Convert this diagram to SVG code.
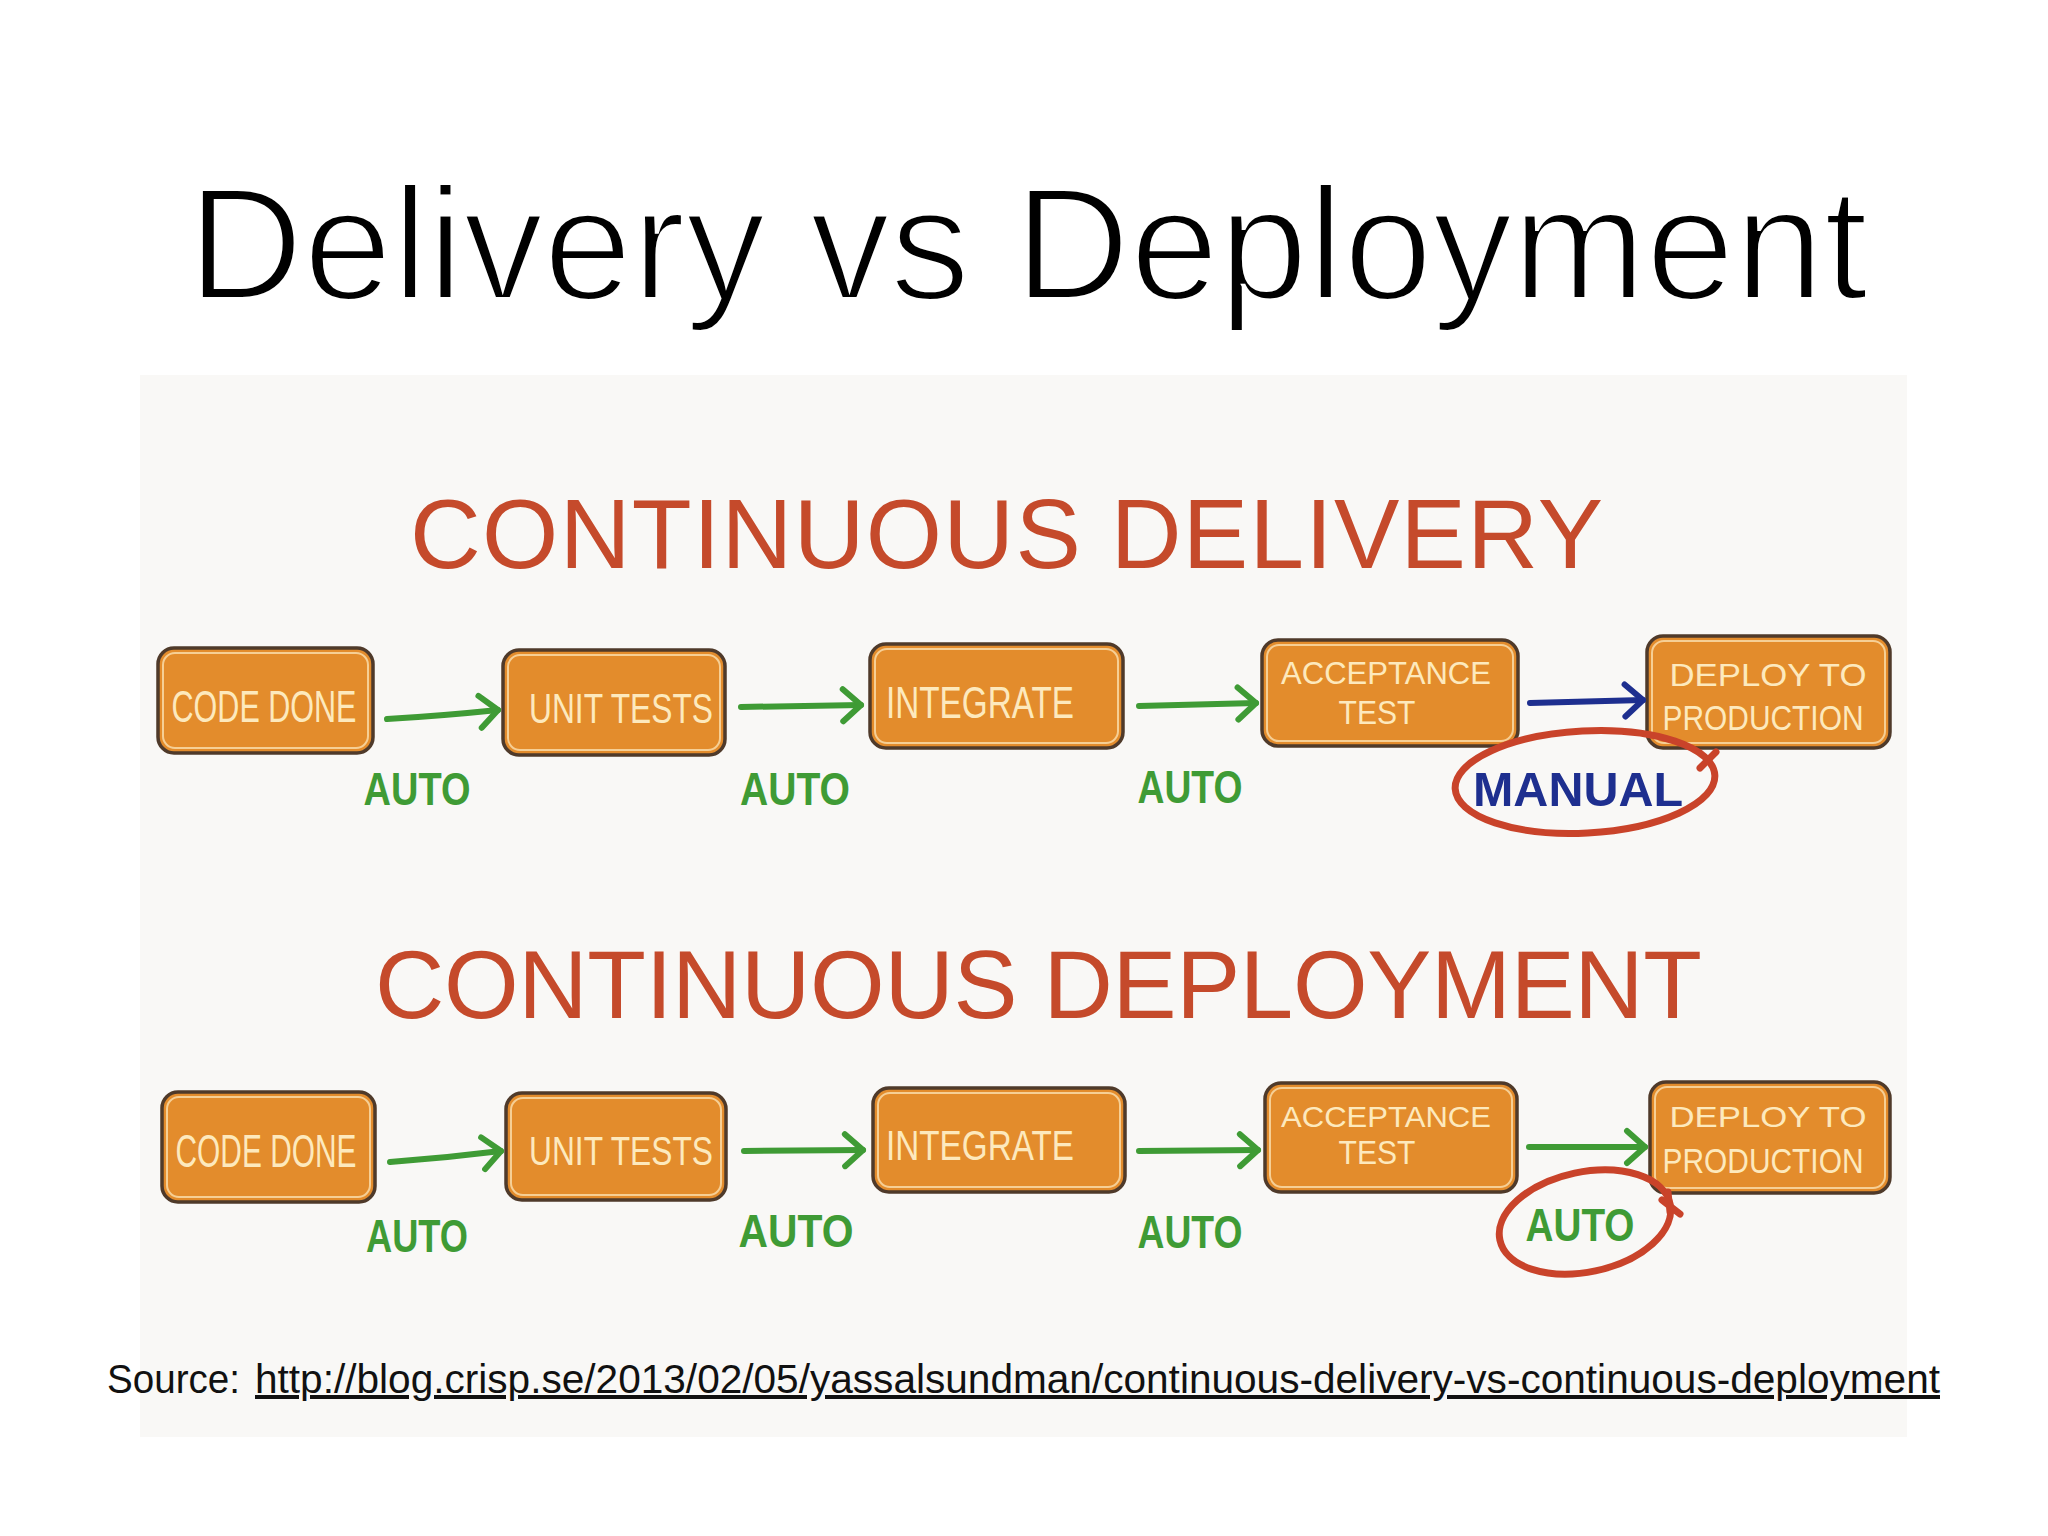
<svg xmlns="http://www.w3.org/2000/svg" width="2048" height="1536" viewBox="0 0 2048 1536">
<defs>
<style>
.title{font-family:"Liberation Sans",Arial,sans-serif;font-size:160px;fill:#000;stroke:#fff;stroke-width:4;}
.head{font-family:"Liberation Sans",Arial,sans-serif;fill:#c54a2b;}
.box{fill:#e38c2c;stroke:#4f3a2a;stroke-width:3.5;}
.boxin{fill:none;stroke:#f6cf95;stroke-width:2;}
.bt{font-family:"Liberation Sans",Arial,sans-serif;fill:#fde9bd;text-anchor:middle;}
.auto{font-family:"Liberation Sans",Arial,sans-serif;font-weight:bold;font-size:46px;fill:#3f9b35;text-anchor:middle;}
.manual{font-family:"Liberation Sans",Arial,sans-serif;font-weight:bold;font-size:48px;fill:#1e2f8f;text-anchor:middle;}
.ga{fill:none;stroke:#3f9b35;stroke-width:6;stroke-linecap:round;}
.ba{fill:none;stroke:#1e2f8f;stroke-width:6;stroke-linecap:round;}
.ring{fill:none;stroke:#c9432a;stroke-width:7;stroke-linecap:round;}
.src{font-family:"Liberation Sans",Arial,sans-serif;font-size:40px;fill:#111;}
</style>
<marker id="ag" markerUnits="userSpaceOnUse" viewBox="0 0 30 40" markerWidth="30" markerHeight="40" refX="26" refY="20" orient="auto">
<path d="M8,4 L26,20 L8,36" fill="none" stroke="#3f9b35" stroke-width="6" stroke-linecap="round" stroke-linejoin="round"/>
</marker>
<marker id="ab" markerUnits="userSpaceOnUse" viewBox="0 0 30 40" markerWidth="30" markerHeight="40" refX="26" refY="20" orient="auto">
<path d="M8,4 L26,20 L8,36" fill="none" stroke="#1e2f8f" stroke-width="6" stroke-linecap="round" stroke-linejoin="round"/>
</marker>
</defs>
<rect x="0" y="0" width="2048" height="1536" fill="#ffffff"/>
<rect x="140" y="375" width="1767" height="1062" fill="#f9f8f6"/>

<text class="title" x="1028" y="299" text-anchor="middle">Delivery vs Deployment</text>

<g id="heading-delivery">
<text class="head" x="410" y="568" font-size="98" textLength="1193" lengthAdjust="spacing">CONTINUOUS DELIVERY</text>
</g>
<g id="heading-deployment">
<text class="head" x="375" y="1018" font-size="96" textLength="1327" lengthAdjust="spacing">CONTINUOUS DEPLOYMENT</text>
</g>

<!-- Row 1 nodes -->
<g id="d-code-done">
<rect class="box" x="158" y="648" width="215" height="105" rx="16"/>
<rect class="boxin" x="163" y="653" width="205" height="95" rx="12"/>
<text class="bt" x="264" y="722" font-size="44" textLength="185" lengthAdjust="spacingAndGlyphs">CODE DONE</text>
</g>
<g id="d-unit-tests">
<rect class="box" x="503" y="650" width="222" height="105" rx="16"/>
<rect class="boxin" x="508" y="655" width="212" height="95" rx="12"/>
<text class="bt" x="621" y="723" font-size="42" textLength="184" lengthAdjust="spacingAndGlyphs">UNIT TESTS</text>
</g>
<g id="d-integrate">
<rect class="box" x="870" y="644" width="253" height="104" rx="16"/>
<rect class="boxin" x="875" y="649" width="243" height="94" rx="12"/>
<text class="bt" x="980" y="718" font-size="44" textLength="188" lengthAdjust="spacingAndGlyphs">INTEGRATE</text>
</g>
<g id="d-acceptance-test">
<rect class="box" x="1262" y="640" width="256" height="106" rx="16"/>
<rect class="boxin" x="1267" y="645" width="246" height="96" rx="12"/>
<text class="bt" x="1386" y="684" font-size="32" textLength="210" lengthAdjust="spacingAndGlyphs">ACCEPTANCE</text>
<text class="bt" x="1377" y="724" font-size="34" textLength="77" lengthAdjust="spacingAndGlyphs">TEST</text>
</g>
<g id="d-deploy">
<rect class="box" x="1647" y="636" width="243" height="112" rx="16"/>
<rect class="boxin" x="1652" y="641" width="233" height="102" rx="12"/>
<text class="bt" x="1768" y="686" font-size="32" textLength="197" lengthAdjust="spacingAndGlyphs">DEPLOY  TO</text>
<text class="bt" x="1763" y="730" font-size="35" textLength="201" lengthAdjust="spacingAndGlyphs">PRODUCTION</text>
</g>

<!-- Row 2 nodes -->
<g id="p-code-done">
<rect class="box" x="162" y="1092" width="213" height="110" rx="16"/>
<rect class="boxin" x="167" y="1097" width="203" height="100" rx="12"/>
<text class="bt" x="266" y="1167" font-size="46" textLength="181" lengthAdjust="spacingAndGlyphs">CODE DONE</text>
</g>
<g id="p-unit-tests">
<rect class="box" x="506" y="1093" width="220" height="107" rx="16"/>
<rect class="boxin" x="511" y="1098" width="210" height="97" rx="12"/>
<text class="bt" x="621" y="1165" font-size="40" textLength="184" lengthAdjust="spacingAndGlyphs">UNIT TESTS</text>
</g>
<g id="p-integrate">
<rect class="box" x="873" y="1088" width="252" height="104" rx="16"/>
<rect class="boxin" x="878" y="1093" width="242" height="94" rx="12"/>
<text class="bt" x="980" y="1160" font-size="42" textLength="188" lengthAdjust="spacingAndGlyphs">INTEGRATE</text>
</g>
<g id="p-acceptance-test">
<rect class="box" x="1265" y="1083" width="252" height="109" rx="16"/>
<rect class="boxin" x="1270" y="1088" width="242" height="99" rx="12"/>
<text class="bt" x="1386" y="1127" font-size="30" textLength="210" lengthAdjust="spacingAndGlyphs">ACCEPTANCE</text>
<text class="bt" x="1377" y="1164" font-size="34" textLength="77" lengthAdjust="spacingAndGlyphs">TEST</text>
</g>
<g id="p-deploy">
<rect class="box" x="1650" y="1082" width="240" height="111" rx="16"/>
<rect class="boxin" x="1655" y="1087" width="230" height="101" rx="12"/>
<text class="bt" x="1768" y="1127" font-size="30" textLength="197" lengthAdjust="spacingAndGlyphs">DEPLOY  TO</text>
<text class="bt" x="1763" y="1173" font-size="35" textLength="201" lengthAdjust="spacingAndGlyphs">PRODUCTION</text>
</g>

<!-- Connectors -->
<g id="connectors">
<path class="ga" d="M387,719 Q440,716 498,710" marker-end="url(#ag)"/>
<path class="ga" d="M741,707 L861,705" marker-end="url(#ag)"/>
<path class="ga" d="M1139,706 L1256,703" marker-end="url(#ag)"/>
<path class="ba" d="M1530,703 L1643,700" marker-end="url(#ab)"/>
<path class="ga" d="M390,1162 Q445,1158 501,1151" marker-end="url(#ag)"/>
<path class="ga" d="M744,1151 L863,1150" marker-end="url(#ag)"/>
<path class="ga" d="M1139,1151 L1258,1150" marker-end="url(#ag)"/>
<path class="ga" d="M1529,1147 L1645,1147" marker-end="url(#ag)"/>
</g>

<!-- Labels -->
<g id="labels">
<text class="auto" x="417" y="805" textLength="107" lengthAdjust="spacingAndGlyphs">AUTO</text>
<text class="auto" x="795" y="805" textLength="110" lengthAdjust="spacingAndGlyphs">AUTO</text>
<text class="auto" x="1190" y="803" textLength="105" lengthAdjust="spacingAndGlyphs">AUTO</text>
<text class="manual" x="1578" y="806" textLength="210" lengthAdjust="spacingAndGlyphs">MANUAL</text>
<text class="auto" x="417" y="1252" textLength="102" lengthAdjust="spacingAndGlyphs">AUTO</text>
<text class="auto" x="796" y="1247" textLength="115" lengthAdjust="spacingAndGlyphs">AUTO</text>
<text class="auto" x="1190" y="1248" textLength="105" lengthAdjust="spacingAndGlyphs">AUTO</text>
<text class="auto" x="1580" y="1241" textLength="109" lengthAdjust="spacingAndGlyphs">AUTO</text>
</g>

<g id="highlight-rings">
<ellipse class="ring" cx="1585" cy="782" rx="130" ry="51" transform="rotate(-3 1585 782)"/>
<path class="ring" d="M1700,768 L1716,752" stroke-width="5"/>
<ellipse class="ring" cx="1585" cy="1222" rx="87" ry="50" transform="rotate(-12 1585 1222)"/>
<path class="ring" d="M1662,1200 L1680,1214 M1668,1192 L1670,1212" stroke-width="5"/>
</g>

<g id="source">
<text class="src" x="107" y="1393" textLength="133" lengthAdjust="spacingAndGlyphs">Source:</text>
<text class="src" x="255" y="1393" textLength="1685" lengthAdjust="spacingAndGlyphs" text-decoration="underline">http://blog.crisp.se/2013/02/05/yassalsundman/continuous-delivery-vs-continuous-deployment</text>
</g>
</svg>
